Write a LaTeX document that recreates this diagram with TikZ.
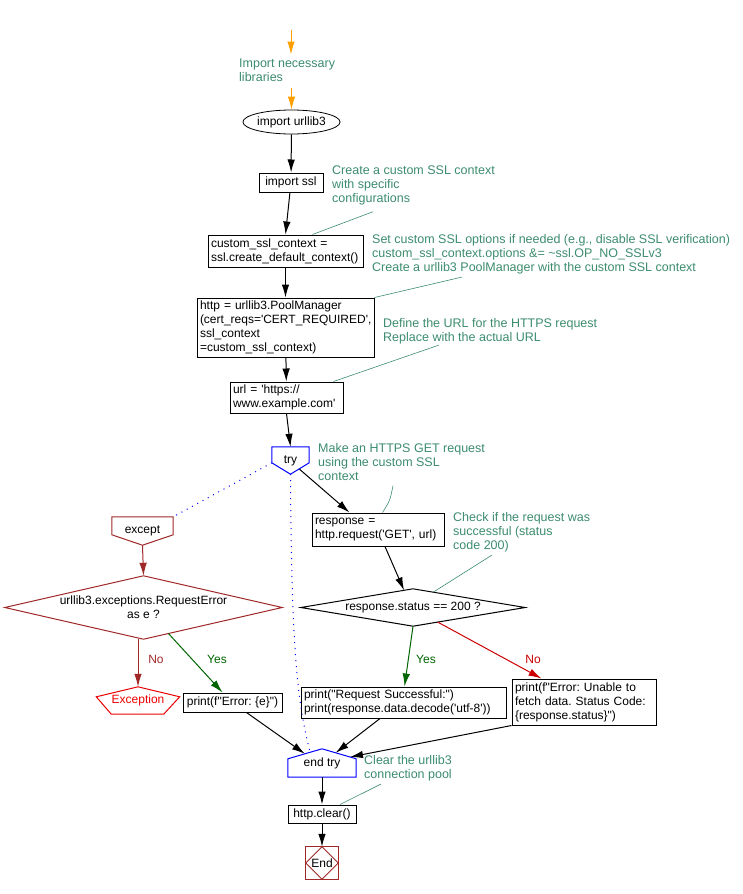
\documentclass[tikz,border=0pt]{standalone}
\usepackage{fontspec}
\newfontfamily\chartfont{Liberation Sans}
\usetikzlibrary{shapes.geometric,arrows.meta,calc}
\definecolor{cmtgreen}{RGB}{60,140,110}
\definecolor{flowor}{RGB}{255,160,0}
\definecolor{brn}{RGB}{160,40,40}
\definecolor{yesgreen}{RGB}{0,100,0}
\definecolor{nored}{RGB}{204,0,0}
\definecolor{excred}{RGB}{235,0,0}
\frenchspacing
\begin{document}
\begin{tikzpicture}[x=1pt,y=-1pt,
    font=\chartfont\fontsize{12}{14}\selectfont,
    >={Latex[length=13pt,width=7.5pt]},
    box/.style={draw,line width=1pt,align=left,inner xsep=3pt,inner ysep=1pt},
    cmt/.style={cmtgreen,align=left,anchor=north west,inner sep=0pt,font=\chartfont\fontsize{12.5}{14}\selectfont},
    cmtline/.style={cmtgreen,line width=0.6pt},
    flow/.style={->,line width=1pt},
    blank/.style={inner sep=0pt},
    tryline/.style={blue,line width=1pt,dash pattern=on 1pt off 5pt}]
    \useasboundingbox (0,0) rectangle (742,894);
    % main column
    \coordinate (top) at (291,30);
    \node [cmt] (c1) at (239,58.5) {Import necessary\\libraries};
    \node [draw,ellipse,line width=0.8pt,minimum width=87pt,minimum height=24pt,inner sep=0pt] (imp) at (291.5,122) {import urllib3};
    \node [box,minimum width=64pt,minimum height=19pt] (ssl) at (291,182.5) {import ssl};
    \node [box,text width=149pt,minimum height=32pt] (ctx) at (285.5,251) {custom\_ssl\_context =\\ssl.create\_default\_context()};
    \node [box,text width=171pt,minimum height=59pt] (pool) at (285.5,327.5) {http = urllib3.PoolManager\\(cert\_reqs='CERT\_REQUIRED',\\ssl\_context\\=custom\_ssl\_context)};
    \node [box,text width=107pt,minimum height=31pt] (url) at (286.5,397.5) {url = 'https://\\www.example.com'};
    \node [blank,minimum width=37pt,minimum height=27pt] (tryn) at (290.5,460.5) {try};
    \node [box,text width=126pt,minimum height=33pt] (resp) at (378,529.5) {response =\\http.request('GET', url)};
    \node [blank,minimum width=224pt,minimum height=37pt] (decR) at (413,607.5) {response.status == 200 ?};
    \node [box,text width=199pt,minimum height=31pt] (succ) at (403.5,702.5) {print("Request Successful:")\\print(response.data.decode('utf-8'))};
    \node [box,text width=138pt,minimum height=46pt] (err) at (584,702) {print(f"Error: Unable to\\fetch data. Status Code:\\\{response.status\}")};
    % except branch
    \node [blank,minimum width=61pt,minimum height=28pt] (excn) at (142.5,531) {except};
    \node [blank,minimum width=277pt,minimum height=63pt,align=center] (decL) at (143.5,607.5) {urllib3.exceptions.RequestError\\as e ?};
    \node [blank,excred,minimum width=83pt,minimum height=27pt] (excp) at (138,700.5) {Exception};
    \node [box,minimum width=99pt,minimum height=19pt] (printe) at (232.5,702.5) {print(f"Error: \{e\}")};
    \node [blank,minimum width=68pt,minimum height=28pt] (endn) at (322,763) {end try};
    \node [box,minimum width=68pt,minimum height=18pt] (clear) at (322,814) {http.clear()};
    \node [blank,minimum width=32pt,minimum height=32pt] (endb) at (322,863) {End};
    % comments
    \node [cmt] (c2) at (332,166) {Create a custom SSL context\\with specific\\configurations};
    \node [cmt] (c3) at (372,234) {Set custom SSL options if needed (e.g., disable SSL verification)\\custom\_ssl\_context.options \&= \textasciitilde ssl.OP\_NO\_SSLv3\\Create a urllib3 PoolManager with the custom SSL context};
    \node [cmt] (c4) at (383,318) {Define the URL for the HTTPS request\\Replace with the actual URL};
    \node [cmt] (c5) at (318,443) {Make an HTTPS GET request\\using the custom SSL\\context};
    \node [cmt] (c6) at (453,512) {Check if the request was\\successful (status\\code 200)};
    \node [cmt] (c7) at (364,755) {Clear the urllib3\\connection pool};
    % branch labels
    \node [yesgreen] (yesR) at (426,659) {Yes};
    \node [nored] (noR) at (533,659) {No};
    \node [yesgreen] (yesL) at (217,659) {Yes};
    \node [brn] (noL) at (156,659) {No};
    % outlines
    \draw [blue,line width=1pt] (tryn.north west) -- (tryn.north east) -- ($(tryn.north east)+(0,16)$) -- (tryn.south) -- ($(tryn.north west)+(0,16)$) -- cycle;
    \draw [brn,line width=1pt] (excn.north west) -- (excn.north east) -- ($(excn.north east)+(0,18)$) -- (excn.south) -- ($(excn.north west)+(0,18)$) -- cycle;
    \draw [blue,line width=1pt] (endn.north) -- ($(endn.north east)+(0,10)$) -- (endn.south east) -- (endn.south west) -- ($(endn.north west)+(0,10)$) -- cycle;
    \draw [excred,line width=1pt] (excp.north) -- ($(excp.north east)+(0,10)$) -- ($(excp.south east)+(-16,0)$) -- ($(excp.south west)+(15,0)$) -- ($(excp.north west)+(0,10)$) -- cycle;
    \draw [line width=1pt] (decR.north) -- (decR.east) -- (decR.south) -- (decR.west) -- cycle;
    \draw [brn,line width=1pt] (decL.north) -- (decL.east) -- (decL.south) -- (decL.west) -- cycle;
    \draw [brn,line width=1pt] (endb.north west) rectangle (endb.south east);
    \draw [brn,line width=0.8pt] (endb.north) -- (endb.east) -- (endb.south) -- (endb.west) -- cycle;
    % connectors
    \draw [flow,flowor,shorten >=4pt] (top) -- (top |- c1.north);
    \draw [flow,flowor,shorten <=6pt] (c1.south -| imp.north) -- (imp.north);
    \draw [flow] (imp) -- (ssl);
    \draw [flow] (ssl) -- (ctx.north);
    \draw [flow] (ctx) -- (pool);
    \draw [flow] (pool) -- (url);
    \draw [flow] (url.south) -- (tryn.north);
    \draw [flow] ($(tryn.south)+(9,-5)$) -- ($(resp.north west)+(38,0)$);
    \draw [flow] ($(resp.south)+(7,0)$) -- ($(decR.north)!0.08!(decR.west)$);
    \draw [flow,yesgreen] (decR.south) -- ($(succ.north)+(1,0)$);
    \draw [flow,nored] ($(decR.south)!0.22!(decR.east)$) -- ($(err.north west)+(30,0)$);
    \draw [flow,brn] (excn.south) -- (decL.north);
    \draw [flow,brn] (decL.south -| excp.north) -- (excp.north);
    \draw [flow,yesgreen] ($(decL.south)!0.18!(decL.east)$) -- ($(printe.north)+(-10,0)$);
    \draw [flow] ($(printe.south)+(14,0)$) -- ($(endn.north west)!0.5!(endn.north)+(0,5)$);
    \draw [flow] ($(succ.south)+(-23.5,0)$) -- ($(endn.north)!0.4!(endn.north east)+(0,4)$);
    \draw [flow] (err.south west) -- ($(endn.north)!0.82!(endn.north east)+(0,8.2)$);
    \draw [flow] (endn) -- (clear);
    \draw [flow] (clear) -- (endb);
    \draw [tryline] ($(tryn.north west)+(0,16)$) -- (excn.north east);
    \draw [tryline] (tryn.south) .. controls ($(tryn.south)+(1,200)$) and ($(endn.north west)+(12,-40)$) .. ($(endn.north west)!0.65!(endn.north)+(0,3.5)$);
    % comment links
    \draw [cmtline] ($(c2.south west)+(41,6)$) -- ($(ctx.north west)+(105,0)$);
    \draw [cmtline] ($(c3.south west)+(90,3)$) -- (pool.north east);
    \draw [cmtline] ($(c4.south west)+(56,1)$) -- ($(url.north east)+(-10,0)$);
    \draw [cmtline] ($(c5.south west)+(75,5)$) .. controls ($(c5.south west)+(72,20)$) .. ($(resp.north west)+(71,0)$);
    \draw [cmtline] ($(c6.south west)+(39,3)$) -- ($(decR.north)!0.18!(decR.east)$);
    \draw [cmtline] ($(c7.south west)+(17,3)$) -- ($(clear.north)+(18,0)$);
\end{tikzpicture}
\end{document}
